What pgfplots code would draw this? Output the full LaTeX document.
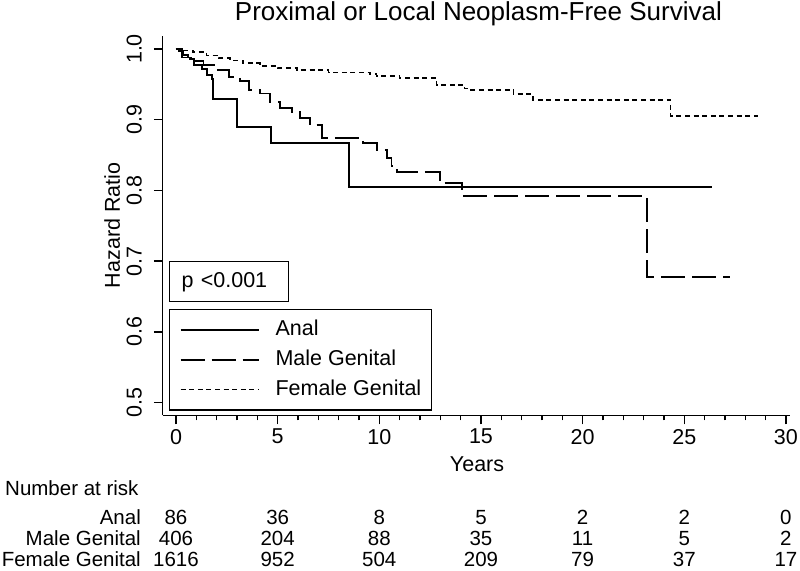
\documentclass[border=0pt]{standalone}
\usepackage{fontspec}
\setmainfont{Liberation Sans}
\usepackage{pgfplots}
\pgfplotsset{compat=1.18}

\newcommand{\txt}{\fontsize{21.5}{24}\selectfont}
\newcommand{\tbl}{\fontsize{20.5}{23}\selectfont}

\begin{document}
\begin{tikzpicture}
\begin{axis}[
  scale only axis,
  width=627.2pt, height=379.7pt,
  xmin=-0.65, xmax=30.2,
  ymin=0.482, ymax=1.019,
  axis lines*=left,
  axis line style={line width=1.4pt, -},
  clip=false,
  tick align=outside,
  major tick length=9pt,
  minor tick length=5pt,
  every tick/.style={black, line width=1.4pt},
  xtick={0,5,...,30},
  minor xtick={1,...,29},
  ytick={0.5,0.6,0.7,0.8,0.9,1.0},
  /pgf/number format/assume math mode=true,
  ticklabel style={font=\txt},
  xticklabel style={anchor=north, inner sep=0pt},
  xticklabel shift=4.7pt,
  yticklabel style={rotate=90, anchor=south, inner sep=0pt,
    /pgf/number format/fixed, /pgf/number format/fixed zerofill,
    /pgf/number format/precision=1},
  yticklabel shift=11.8pt,
  title={Proximal or Local Neoplasm-Free Survival},
  title style={at={(rel axis cs:0.5033,1.0238)}, anchor=base, inner sep=0pt,
    font=\fontsize{26}{30}\selectfont},
  xlabel={Years},
  xlabel style={at={(rel axis cs:0.501,-0.1469)}, anchor=base, inner sep=0pt, font=\txt},
  ylabel={Hazard Ratio},
  ylabel style={at={(rel axis cs:-0.06823,0.5)}, anchor=base, inner sep=0pt, font=\txt},
  legend cell align=left,
  legend image code/.code={\draw[#1] (0pt,0pt) -- (78pt,0pt);},
  legend style={at={(axis cs:-0.344,0.6322)}, anchor=north west,
    draw=black, line width=1.4pt, inner xsep=10pt, inner ysep=10pt,
    font=\txt, row sep=8.7pt,
    nodes={inner sep=0pt, text height=16pt, text depth=5pt},
    /tikz/every odd column/.append style={column sep=16pt}},
]

% Anal
\addplot[const plot, black, line width=1.8pt] coordinates {
  (0,1) (0.3,0.988) (0.69,0.986) (0.9,0.977) (1.26,0.972) (1.51,0.963)
  (1.76,0.958) (1.83,0.929) (3.02,0.890) (4.67,0.867) (8.52,0.805) (26.35,0.805)
};
\addlegendentry{Anal}

% Male Genital
\addplot[const plot, black, line width=1.8pt, dash pattern=on 24pt off 7pt] coordinates {
  (0,1) (0.15,0.997) (0.36,0.992) (0.6,0.988) (1.0,0.983) (1.35,0.977)
  (2.0,0.970) (2.6,0.960) (3.15,0.955) (3.6,0.942) (4.13,0.937)
  (4.62,0.925) (5.1,0.916) (5.69,0.911) (6.1,0.902) (6.6,0.892)
  (7.17,0.874) (9.2,0.867) (9.9,0.857) (10.36,0.846) (10.6,0.834)
  (10.86,0.826) (12.98,0.810) (14.05,0.7925) (23.15,0.678) (27.25,0.678)
};
\addlegendentry{Male Genital}

% Female Genital
\addplot[const plot, black, line width=1.6pt, dash pattern=on 5pt off 3.6pt] coordinates {
  (0,1) (0.3,0.998) (0.85,0.996) (1.5,0.991) (2.1,0.987) (2.66,0.984)
  (3.3,0.980) (4.13,0.976) (5.0,0.973) (5.94,0.970) (7.5,0.967)
  (9.54,0.965) (9.87,0.962) (11.0,0.959) (12.82,0.9495) (14.2,0.944)
  (14.4,0.942) (16.6,0.936) (17.57,0.928) (24.33,0.905) (28.64,0.905)
};
\addlegendentry{Female Genital}

% p-value box
\node[draw, line width=1.4pt, anchor=north west, inner xsep=12pt, inner ysep=0pt,
  text width=95pt, minimum height=40pt, align=left, font=\txt]
  at (axis cs:-0.344,0.7001) {p <0.001};

% number at risk table
\node[anchor=base west, inner sep=0pt, font=\tbl] at (axis cs:-8.41,0.3692) {Number at risk};
\node[anchor=base east, inner sep=0pt, font=\tbl] at (axis cs:-1.72,0.3281) {Anal};
\node[anchor=base east, inner sep=0pt, font=\tbl] at (axis cs:-1.72,0.2977) {Male Genital};
\node[anchor=base east, inner sep=0pt, font=\tbl] at (axis cs:-1.72,0.2687) {Female Genital};

\addplot[draw=none, forget plot, nodes near coords, point meta=explicit symbolic,
  nodes near coords style={anchor=base, inner sep=0pt, font=\tbl}] coordinates {
  (0,0.3281)[86] (5,0.3281)[36] (10,0.3281)[8] (15,0.3281)[5]
  (20,0.3281)[2] (25,0.3281)[2] (30,0.3281)[0]
};
\addplot[draw=none, forget plot, nodes near coords, point meta=explicit symbolic,
  nodes near coords style={anchor=base, inner sep=0pt, font=\tbl}] coordinates {
  (0,0.2977)[406] (5,0.2977)[204] (10,0.2977)[88] (15,0.2977)[35]
  (20,0.2977)[11] (25,0.2977)[5] (30,0.2977)[2]
};
\addplot[draw=none, forget plot, nodes near coords, point meta=explicit symbolic,
  nodes near coords style={anchor=base, inner sep=0pt, font=\tbl}] coordinates {
  (0,0.2687)[1616] (5,0.2687)[952] (10,0.2687)[504] (15,0.2687)[209]
  (20,0.2687)[79] (25,0.2687)[37] (30,0.2687)[17]
};

\coordinate (bbsw) at (axis cs:-8.657,0.2631);
\coordinate (bbne) at (axis cs:30.693,1.0693);
\end{axis}
\pgfresetboundingbox
\path[use as bounding box] (bbsw) rectangle (bbne);
\end{tikzpicture}
\end{document}
